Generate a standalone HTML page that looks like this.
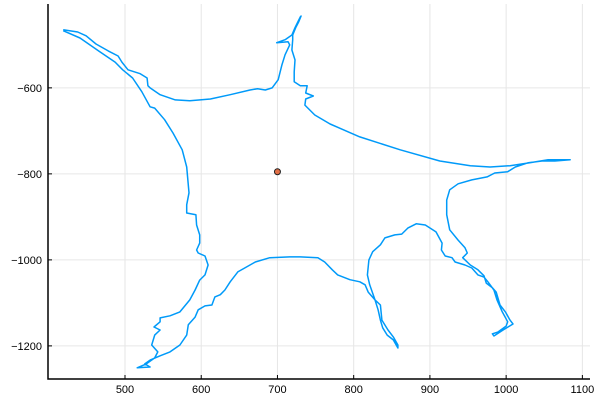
<!DOCTYPE html>
<html><head><meta charset="utf-8"><style>
body{margin:0;background:#fff}
svg{display:block}
text{font-family:"Liberation Sans",sans-serif;font-size:11px;fill:#000}
</style></head><body>
<svg id="chart" width="600" height="400"></svg>
<script>
const outlineX=[419,438,449,462,478,491,496,504,520,529,530,533,546,566,585,612,638,664,674,684,693,701,706,710,716,714,699,710,719,723,727,730,731,728,724,720,720,719,723,722,722,730,739,737,747,737,736,749,769,808,861,913,953,979,1005,1031,1055,1084,1064,1047,1029,1012,1002,985,975,955,937,926,922,922,926,937,946,949,943,953,963,971,974,982,987,992,999,1005,1009,996,984,982,989,1000,1002,995,988,984,976,971,963,955,946,933,929,920,915,916,908,894,882,871,863,854,841,835,825,820,818,821,828,835,837,845,852,858,858,852,844,838,835,832,828,819,815,808,795,779,772,762,753,730,716,690,671,657,648,638,631,625,618,614,605,596,592,583,581,572,559,546,533,526,533,516,528,539,543,535,539,546,538,546,546,559,572,585,592,598,605,609,605,596,594,598,598,594,593,581,581,584,581,575,563,552,539,533,522,510,497,487,467,441,419];
const outlineY=[-465,-470,-479,-498,-514,-526,-540,-558,-567,-577,-595,-600,-616,-628,-630,-626,-616,-605,-602,-605,-600,-581,-546,-523,-500,-493,-495,-488,-477,-460,-446,-435,-433,-446,-460,-477,-488,-512,-535,-563,-586,-595,-595,-612,-619,-626,-640,-663,-684,-714,-744,-770,-781,-784,-781,-774,-767,-767,-770,-770,-774,-784,-795,-798,-807,-814,-823,-837,-861,-895,-930,-954,-972,-984,-995,-1012,-1023,-1037,-1054,-1065,-1075,-1105,-1121,-1140,-1149,-1163,-1177,-1172,-1168,-1154,-1144,-1121,-1093,-1070,-1051,-1040,-1035,-1019,-1012,-1005,-995,-991,-977,-961,-935,-919,-916,-926,-940,-942,-949,-965,-981,-1000,-1035,-1058,-1093,-1105,-1140,-1163,-1179,-1198,-1205,-1186,-1175,-1158,-1140,-1116,-1093,-1075,-1058,-1051,-1046,-1035,-1023,-1005,-995,-993,-993,-995,-1005,-1019,-1028,-1051,-1070,-1081,-1086,-1105,-1107,-1116,-1133,-1151,-1175,-1198,-1214,-1223,-1233,-1242,-1249,-1251,-1242,-1228,-1214,-1198,-1175,-1163,-1156,-1144,-1135,-1130,-1121,-1093,-1070,-1047,-1035,-1012,-991,-984,-977,-961,-942,-919,-895,-891,-872,-844,-784,-744,-705,-674,-647,-644,-609,-577,-558,-540,-516,-484,-467];
const centroidX=[700];
const centroidY=[-795];
const xTicks=[500,600,700,800,900,1000,1100];
const yTicks=[-600,-800,-1000,-1200];

const NS='http://www.w3.org/2000/svg';
const svg=document.getElementById('chart');
const L=48,R=590,T=4,B=379,x0=399,x1=1110,y0=-1277,y1=-405;
const sx=v=>L+(v-x0)/(x1-x0)*(R-L);
const sy=v=>B-(v-y0)/(y1-y0)*(B-T);
function mk(tag,attrs){const e=document.createElementNS(NS,tag);for(const k in attrs)e.setAttribute(k,attrs[k]);svg.appendChild(e);return e;}

xTicks.forEach(t=>{
  const g=mk('line',{x1:sx(t),x2:sx(t),y1:T,y2:B,stroke:'#e6e6e6','stroke-width':1});
  
  
  const tk=mk('line',{x1:sx(t),x2:sx(t),y1:B,y2:B-4,stroke:'#000','stroke-width':1});
  
  
  const lb=mk('text',{x:sx(t),y:B+14,'text-anchor':'middle'});lb.textContent=t;
  
  
});
yTicks.forEach(t=>{
  const g=mk('line',{x1:L,x2:R,y1:sy(t),y2:sy(t),stroke:'#e6e6e6','stroke-width':1});
  
  
  const tk=mk('line',{x1:L,x2:L+4,y1:sy(t),y2:sy(t),stroke:'#000','stroke-width':1});
  
  
  const lb=mk('text',{x:L-6,y:sy(t)+4,'text-anchor':'end'});lb.textContent='\u2212'+Math.abs(t);
  
  
});
const ax=mk('path',{d:`M${L},${T}V${B}H${R}`,fill:'none',stroke:'#000','stroke-width':1.5});



const pts=outlineX.map((v,i)=>sx(v).toFixed(1)+','+sy(outlineY[i]).toFixed(1)).join(' ');
const line=mk('polyline',{points:pts,fill:'none',stroke:'#009af9','stroke-width':1.5,'stroke-linejoin':'round'});



centroidX.forEach((v,i)=>{
  const c=mk('circle',{cx:sx(v),cy:sy(centroidY[i]),r:3,fill:'#e26f46',stroke:'#222','stroke-width':1});
  
  
});
</script>
</body></html>
